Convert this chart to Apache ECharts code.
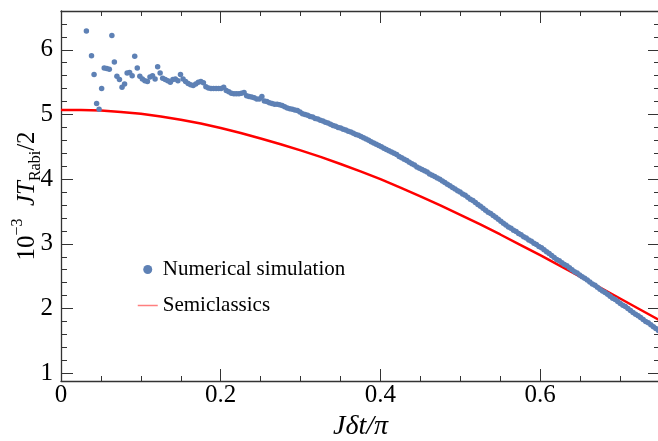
<!DOCTYPE html>
<html>
<head>
<meta charset="utf-8">
<script src="https://cdn.jsdelivr.net/npm/echarts@6/dist/echarts.min.js"></script>
<style>
  html, body { margin: 0; padding: 0; background: #fff; }
  #chart { width: 658px; height: 441px; }
</style>
</head>
<body>
<div id="chart"></div>
<script>
// numerical simulation, J*dt/pi
var simX = [
  0.0318, 0.0382, 0.0414, 0.0446, 0.0477, 0.0509, 0.0541, 0.0573, 0.0605, 0.0637,
  0.0668, 0.0700, 0.0732, 0.0764, 0.0796, 0.0828, 0.0859, 0.0891, 0.0923, 0.0955,
  0.0987, 0.1019, 0.1050, 0.1082, 0.1114, 0.1146, 0.1178, 0.1210, 0.1241, 0.1273,
  0.1305, 0.1337, 0.1369, 0.1401, 0.1432, 0.1464, 0.1496, 0.1528, 0.1560, 0.1592,
  0.1623, 0.1655, 0.1687, 0.1719, 0.1751, 0.1783, 0.1814, 0.1846, 0.1878, 0.1910,
  0.1942, 0.1974, 0.2005, 0.2037, 0.2069, 0.2101, 0.2133, 0.2165, 0.2196, 0.2228,
  0.2260, 0.2292, 0.2324, 0.2355, 0.2387, 0.2419, 0.2451, 0.2483, 0.2515, 0.2546,
  0.2578, 0.2610, 0.2642, 0.2674, 0.2706, 0.2737, 0.2769, 0.2801, 0.2833, 0.2865,
  0.2897, 0.2928, 0.2960, 0.2992, 0.3024, 0.3056, 0.3088, 0.3119, 0.3151, 0.3183,
  0.3215, 0.3247, 0.3279, 0.3310, 0.3342, 0.3374, 0.3406, 0.3438, 0.3470, 0.3501,
  0.3533, 0.3565, 0.3597, 0.3629, 0.3661, 0.3692, 0.3724, 0.3756, 0.3788, 0.3820,
  0.3852, 0.3883, 0.3915, 0.3947, 0.3979, 0.4011, 0.4043, 0.4074, 0.4106, 0.4138,
  0.4170, 0.4202, 0.4234, 0.4265, 0.4297, 0.4329, 0.4361, 0.4393, 0.4425, 0.4456,
  0.4488, 0.4520, 0.4552, 0.4584, 0.4615, 0.4647, 0.4679, 0.4711, 0.4743, 0.4775,
  0.4806, 0.4838, 0.4870, 0.4902, 0.4934, 0.4966, 0.4997, 0.5029, 0.5061, 0.5093,
  0.5125, 0.5157, 0.5188, 0.5220, 0.5252, 0.5284, 0.5316, 0.5348, 0.5379, 0.5411,
  0.5443, 0.5475, 0.5507, 0.5539, 0.5570, 0.5602, 0.5634, 0.5666, 0.5698, 0.5730,
  0.5761, 0.5793, 0.5825, 0.5857, 0.5889, 0.5921, 0.5952, 0.5984, 0.6016, 0.6048,
  0.6080, 0.6112, 0.6143, 0.6175, 0.6207, 0.6239, 0.6271, 0.6303, 0.6334, 0.6366,
  0.6398, 0.6430, 0.6462, 0.6494, 0.6525, 0.6557, 0.6589, 0.6621, 0.6653, 0.6685,
  0.6716, 0.6748, 0.6780, 0.6812, 0.6844, 0.6875, 0.6907, 0.6939, 0.6971, 0.7003,
  0.7035, 0.7066, 0.7098, 0.7130, 0.7162, 0.7194, 0.7226, 0.7257, 0.7289, 0.7321,
  0.7353, 0.7385, 0.7417, 0.7448, 0.7480, 0.7512
];
var simY = [
  6.29, 5.91, 5.62, 5.17, 5.08, 5.40, 5.72, 5.71, 5.70, 6.22,
  5.81, 5.59, 5.54, 5.42, 5.47, 5.64, 5.65, 5.60, 5.90, 5.72,
  5.59, 5.55, 5.52, 5.51, 5.58, 5.60, 5.55, 5.74, 5.64, 5.56,
  5.54, 5.52, 5.50, 5.54, 5.55, 5.52, 5.62, 5.55, 5.51, 5.48,
  5.46, 5.45, 5.47, 5.50, 5.51, 5.49, 5.43, 5.41, 5.40, 5.40,
  5.40, 5.40, 5.40, 5.42, 5.37, 5.35, 5.33, 5.32, 5.32, 5.32,
  5.33, 5.34, 5.29, 5.28, 5.27, 5.26, 5.24, 5.24, 5.28, 5.21,
  5.20, 5.18, 5.17, 5.16, 5.16, 5.15, 5.14, 5.12, 5.10, 5.09,
  5.08, 5.07, 5.06, 5.04, 5.01, 5.00, 4.99, 4.97, 4.96, 4.94,
  4.93, 4.91, 4.90, 4.88, 4.87, 4.85, 4.83, 4.82, 4.80, 4.79,
  4.77, 4.76, 4.74, 4.73, 4.71, 4.69, 4.68, 4.66, 4.64, 4.62,
  4.60, 4.58, 4.56, 4.54, 4.52, 4.50, 4.48, 4.46, 4.44, 4.42,
  4.40, 4.38, 4.35, 4.33, 4.31, 4.29, 4.26, 4.24, 4.22, 4.19,
  4.17, 4.15, 4.13, 4.11, 4.08, 4.06, 4.04, 4.02, 4.00, 3.97,
  3.95, 3.92, 3.90, 3.87, 3.85, 3.82, 3.80, 3.77, 3.75, 3.72,
  3.69, 3.67, 3.64, 3.61, 3.58, 3.55, 3.52, 3.49, 3.47, 3.44,
  3.41, 3.38, 3.35, 3.32, 3.29, 3.26, 3.24, 3.21, 3.19, 3.16,
  3.14, 3.11, 3.09, 3.06, 3.04, 3.01, 2.99, 2.96, 2.94, 2.91,
  2.88, 2.85, 2.82, 2.79, 2.76, 2.74, 2.71, 2.68, 2.66, 2.63,
  2.60, 2.57, 2.55, 2.52, 2.49, 2.47, 2.44, 2.41, 2.38, 2.36,
  2.33, 2.30, 2.27, 2.25, 2.22, 2.19, 2.16, 2.14, 2.11, 2.08,
  2.05, 2.03, 2.00, 1.97, 1.94, 1.91, 1.89, 1.86, 1.83, 1.80,
  1.78, 1.75, 1.72, 1.69, 1.66, 1.64
];

// semiclassical curve
var semiX = [
  0, 0.025, 0.05, 0.075, 0.1, 0.125, 0.15, 0.175, 0.2, 0.225,
  0.25, 0.275, 0.3, 0.325, 0.35, 0.375, 0.4, 0.425, 0.45, 0.475,
  0.5, 0.525, 0.55, 0.575, 0.6, 0.625, 0.65, 0.675, 0.7, 0.725, 0.75
];
var semiY = [
  5.07, 5.07, 5.06, 5.04, 5.01, 4.97, 4.92, 4.86, 4.79, 4.715,
  4.63, 4.54, 4.445, 4.345, 4.235, 4.12, 4.00, 3.87, 3.735, 3.595,
  3.45, 3.30, 3.145, 2.985, 2.825, 2.66, 2.495, 2.325, 2.155, 1.985, 1.815
];

// ticks
var xMajor = [0, 0.2, 0.4, 0.6];
var xMinor = [0.05, 0.1, 0.15, 0.25, 0.3, 0.35, 0.45, 0.5, 0.55, 0.65, 0.7];
var yMajor = [1, 2, 3, 4, 5, 6];
var yMinor = [1.2, 1.4, 1.6, 1.8, 2.2, 2.4, 2.6, 2.8, 3.2, 3.4, 3.6, 3.8,
  4.2, 4.4, 4.6, 4.8, 5.2, 5.4, 5.6, 5.8, 6.2, 6.4];

var FONT = "Liberation Serif";
var FRAME = "#333";

function frameAxis(pos, min, max, ticks, len, showLine) {
  return {
    type: "value",
    position: pos,
    min: min,
    max: max,
    axisLine: { show: showLine, onZero: false, lineStyle: { color: FRAME, width: 1.3 } },
    axisTick: { show: true, inside: true, length: len, customValues: ticks, lineStyle: { color: FRAME, width: 1 } },
    axisLabel: { show: false },
    splitLine: { show: false }
  };
}

var xBottom = frameAxis("bottom", 0, 0.75, xMajor, 12, true);
xBottom.axisLabel = {
  show: true, customValues: xMajor, margin: 2,
  fontFamily: FONT, fontSize: 25, color: "#000"
};
xBottom.name = "J\u03b4t/\u03c0";
xBottom.nameLocation = "middle";
xBottom.nameGap = 26;
xBottom.nameTextStyle = { fontFamily: FONT, fontSize: 28, fontStyle: "italic", color: "#000" };

var yLeft = frameAxis("left", 0.88, 6.6, yMajor, 12, true);
yLeft.axisLabel = {
  show: true, customValues: yMajor, margin: 8,
  fontFamily: FONT, fontSize: 25, color: "#000"
};
yLeft.name = "{n|10}{sup|\u22123}  {it|JT}{sub|Rabi}{n|/2}";
yLeft.nameLocation = "middle";
yLeft.nameGap = 17;
yLeft.nameMoveOverlap = false;
yLeft.nameTextStyle = {
  fontFamily: FONT, fontSize: 25, color: "#000",
  rich: {
    n: { fontFamily: FONT, fontSize: 25, lineHeight: 34, color: "#000" },
    it: { fontFamily: FONT, fontSize: 25, fontStyle: "italic", lineHeight: 34, color: "#000" },
    sup: { fontFamily: FONT, fontSize: 16, lineHeight: 16, verticalAlign: "top", color: "#000" },
    sub: { fontFamily: FONT, fontSize: 16, lineHeight: 16, verticalAlign: "bottom", color: "#000" }
  }
};

var chart = echarts.init(document.getElementById("chart"));
var option = {
  animation: false,
  backgroundColor: "#fff",
  grid: { left: 61, top: 11, width: 599, height: 370, containLabel: false, outerBoundsMode: "none" },
  legend: {
    orient: "vertical",
    left: 132,
    top: 254,
    itemWidth: 20,
    itemHeight: 9,
    itemGap: 15,
    selectedMode: false,
    textStyle: { fontFamily: FONT, fontSize: 21, color: "#000" },
    data: [
      { name: "Numerical simulation", icon: "circle" },
      {
        name: "Semiclassics",
        itemStyle: { opacity: 0 },
        lineStyle: { color: "rgba(255,0,0,0.5)", width: 1.5 }
      }
    ]
  },
  xAxis: [
    xBottom,
    frameAxis("bottom", 0, 0.75, xMinor, 5, false),
    frameAxis("top", 0, 0.75, xMajor, 12, true),
    frameAxis("top", 0, 0.75, xMinor, 5, false)
  ],
  yAxis: [
    yLeft,
    frameAxis("left", 0.88, 6.6, yMinor, 6, false),
    frameAxis("right", 0.88, 6.6, yMajor, 12, true),
    frameAxis("right", 0.88, 6.6, yMinor, 6, false)
  ],
  series: [
    {
      name: "Semiclassics",
      type: "line",
      xAxisIndex: 0,
      yAxisIndex: 0,
      data: semiX.map(function (x, i) { return [x, semiY[i]]; }),
      symbol: "none",
      smooth: false,
      lineStyle: { color: "#ff0000", width: 2.5 },
      z: 2
    },
    {
      name: "Numerical simulation",
      type: "scatter",
      xAxisIndex: 0,
      yAxisIndex: 0,
      data: simX.map(function (x, i) { return [x, simY[i]]; }),
      symbolSize: 5.5,
      itemStyle: { color: "#5e81b5", opacity: 1 },
      z: 3
    }
  ]
};
chart.setOption(option);
</script>
</body>
</html>
